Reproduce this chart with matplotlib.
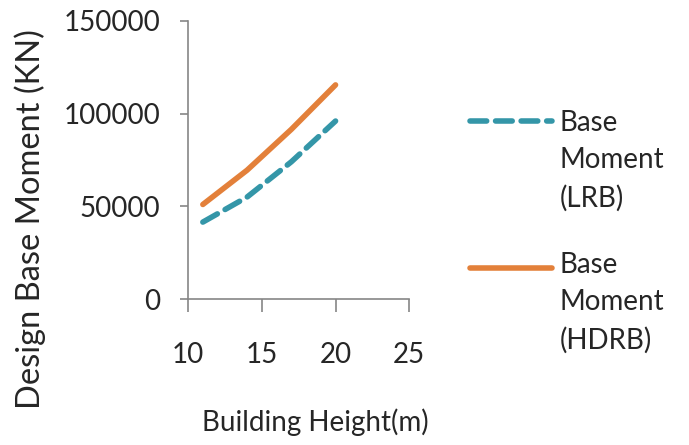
import matplotlib.pyplot as plt
from matplotlib.lines import Line2D

plt.rcParams['font.family'] = ['Lato', 'DejaVu Sans']

# Data
height = [11, 14, 17, 20]
moment_lrb = [41500, 55000, 74000, 96000]
moment_hdrb = [51000, 69500, 91500, 115500]
labels = ["Base\nMoment\n(LRB)", "Base\nMoment\n(HDRB)"]

teal = "#3496a8"
orange = "#e3803a"
grey = "#868686"
txt = "#262626"

fig = plt.figure(figsize=(6.89, 4.45), dpi=100)
ax = fig.add_axes([0.273, 0.328, 0.321, 0.625])

ax.plot(height, moment_lrb, color=teal, lw=4, ls=(0, (3, 1.6)),
        dash_capstyle="round", solid_capstyle="round")
ax.plot(height, moment_hdrb, color=orange, lw=4, solid_capstyle="round")

ax.set_xlim(10, 25)
ax.set_ylim(0, 150000)
ax.set_xticks([10, 15, 20, 25])
ax.set_yticks([0, 50000, 100000, 150000])

for s in ["top", "right"]:
    ax.spines[s].set_visible(False)
for s in ["left", "bottom"]:
    ax.spines[s].set_color(grey)
    ax.spines[s].set_linewidth(1.2)

ax.tick_params(axis="y", length=6, width=1.2, color=grey, pad=14,
               labelsize=20, labelcolor=txt)
ax.tick_params(axis="x", length=9, width=1.2, color=grey, pad=22,
               labelsize=20, labelcolor=txt)

W, H = 689, 445
fig.text(30 / W, 1 - 219 / H, "Design Base Moment (KN)", fontsize=23.5,
         color=txt, rotation=90, ha="center", va="center")
fig.text(315 / W, 1 - 422 / H, "Building Height(m)", fontsize=20,
         color=txt, ha="center", va="center")

# legend drawn in figure coordinates
fig.add_artist(Line2D([470 / W, 552 / W], [1 - 121 / H, 1 - 121 / H],
                      color=teal, lw=4, ls=(0, (3, 1.6)), dash_capstyle="round"))
fig.add_artist(Line2D([470 / W, 552 / W], [1 - 268 / H, 1 - 268 / H],
                      color=orange, lw=4, solid_capstyle="round"))
fig.text(560 / W, 1 - 110 / H, labels[0], fontsize=20, color=txt,
         va="top", ha="left", linespacing=1.53)
fig.text(560 / W, 1 - 252 / H, labels[1], fontsize=20, color=txt,
         va="top", ha="left", linespacing=1.53)

fig.savefig("out.png", dpi=100)
